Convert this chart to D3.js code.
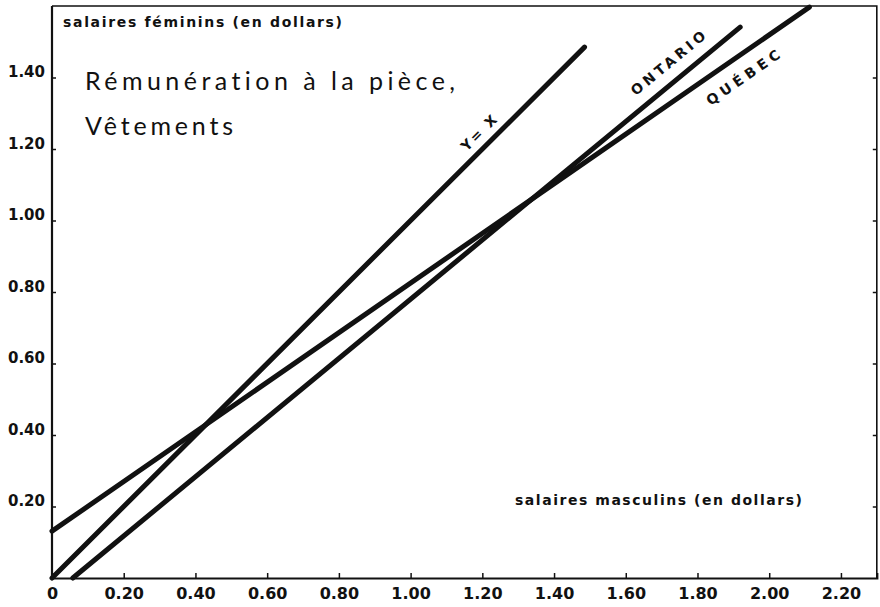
<!DOCTYPE html>
<html lang="fr">
<head>
  <meta charset="UTF-8">
  <title>Rémunération à la pièce, Vêtements</title>
  <script src="https://d3js.org/d3.v7.min.js"></script>
  <style>
    body { margin: 0; background: #fff; }
    svg text { fill: #111; }
    .tick-label { font-family: "DejaVu Sans", sans-serif; font-weight: bold; }
    .axis-title { font-family: "DejaVu Sans", sans-serif; font-weight: bold; font-size: 14px; }
    .title { font-family: Lato, "DejaVu Sans", sans-serif; font-size: 25px; font-variant-ligatures: none; }
    .series-label { font-family: "DejaVu Sans", sans-serif; font-weight: bold; font-size: 14px; }
  </style>
</head>
<body>
  <svg id="chart" width="880" height="607"></svg>

  <script>
    // tick values
    const xTicks = [0, 0.20, 0.40, 0.60, 0.80, 1.00, 1.20, 1.40, 1.60, 1.80, 2.00, 2.20];
    const yTicks = [0.20, 0.40, 0.60, 0.80, 1.00, 1.20, 1.40];

    // straight lines, endpoints in dollars (men's wage, women's wage)
    const lineNames = ["Y= X", "ONTARIO", "QUÉBEC"];
    const yEqualsX = [[0, 0], [1.485, 1.485]];
    const ontario = [[0.058, 0], [1.919, 1.541]];
    const quebec = [[0, 0.131], [2.112, 1.597]];

    // where each label sits, in data units
    const labelPos = [[1.19, 1.245], [1.718, 1.44], [1.927, 1.40]];

    const svg = d3.select("#chart");

    const x = d3.scaleLinear().domain([0, 2.30]).range([52, 876.8]);
    const y = d3.scaleLinear().domain([0, 1.60]).range([578, 6]);

    // frame (top + right)
    svg.append("path")
      .attr("d", `M${x(0)},${y(1.6)} H${x(2.3)} V${y(0)}`)
      .attr("fill", "none")
      .attr("stroke", "#111")
      .attr("stroke-width", 1.6);

    // x axis, ticks pointing up into the plot
    const gX = svg.append("g")
      .attr("transform", `translate(0,${y(0)})`)
      .call(d3.axisBottom(x).tickValues(xTicks).tickSize(-5).tickPadding(10)
        .tickFormat(d => d === 0 ? "0" : d3.format(".2f")(d)));
    gX.select(".domain").attr("stroke", "#111").attr("stroke-width", 2.2);
    gX.selectAll(".tick line").attr("stroke", "#111").attr("stroke-width", 1.5);
    gX.selectAll(".tick text").attr("class", "tick-label").style("font-size", "16px").attr("fill", "#111");
    gX.selectAll(".tick").filter(d => d === 0).select("line").remove();

    // y axis, ticks pointing right into the plot
    const gY = svg.append("g")
      .attr("transform", `translate(${x(0)},0)`)
      .call(d3.axisLeft(y).tickValues(yTicks).tickSize(-4).tickPadding(7)
        .tickFormat(d3.format(".2f")));
    gY.select(".domain").attr("stroke", "#111").attr("stroke-width", 2.2);
    gY.selectAll(".tick line").attr("stroke", "#111").attr("stroke-width", 1.5);
    gY.selectAll(".tick text").attr("class", "tick-label").style("font-size", "15px")
      .attr("fill", "#111").attr("dy", "-0.05em");
    gY.select(".domain").attr("d", `M0,${y(0)}V${y(1.6)}`);

    // right side ticks
    const gR = svg.append("g")
      .attr("transform", `translate(${x(2.3)},0)`)
      .call(d3.axisRight(y).tickValues(yTicks).tickSize(-4).tickFormat(""));
    gR.select(".domain").remove();
    gR.selectAll(".tick line").attr("stroke", "#111").attr("stroke-width", 1.5);

    // axis titles
    svg.append("text")
      .attr("class", "axis-title")
      .attr("x", 63).attr("y", 27)
      .attr("textLength", 279).attr("lengthAdjust", "spacing")
      .text("salaires féminins (en dollars)");

    svg.append("text")
      .attr("class", "axis-title")
      .attr("x", 515).attr("y", 505)
      .attr("textLength", 287).attr("lengthAdjust", "spacing")
      .text("salaires masculins (en dollars)");

    // title
    svg.append("text")
      .attr("class", "title")
      .attr("x", 85).attr("y", 90)
      .attr("textLength", 370).attr("lengthAdjust", "spacing")
      .text("Rémunération à la pièce,");
    svg.append("text")
      .attr("class", "title")
      .attr("x", 85).attr("y", 135)
      .attr("textLength", 148).attr("lengthAdjust", "spacing")
      .text("Vêtements");

    // the three lines
    const line = d3.line().x(d => x(d[0])).y(d => y(d[1]));
    const series = [yEqualsX, ontario, quebec];

    svg.selectAll(".trend-line")
      .data(series)
      .enter().append("path")
      .attr("class", "trend-line")
      .attr("d", line)
      .attr("fill", "none")
      .attr("stroke", "#111")
      .attr("stroke-width", 5)
      .attr("stroke-linecap", "round");

    // labels along each line
    const labelLen = [44, 92, 86];
    series.forEach((s, i) => {
      const [p0, p1] = s;
      const angle = Math.atan2(y(p1[1]) - y(p0[1]), x(p1[0]) - x(p0[0])) * 180 / Math.PI;
      const px = x(labelPos[i][0]);
      const py = y(labelPos[i][1]);
      svg.append("text")
        .attr("class", "series-label")
        .attr("text-anchor", "middle")
        .attr("dominant-baseline", "central")
        .attr("transform", `translate(${px},${py}) rotate(${angle})`)
        .attr("textLength", labelLen[i]).attr("lengthAdjust", "spacing")
        .text(lineNames[i]);
    });
  </script>
</body>
</html>
